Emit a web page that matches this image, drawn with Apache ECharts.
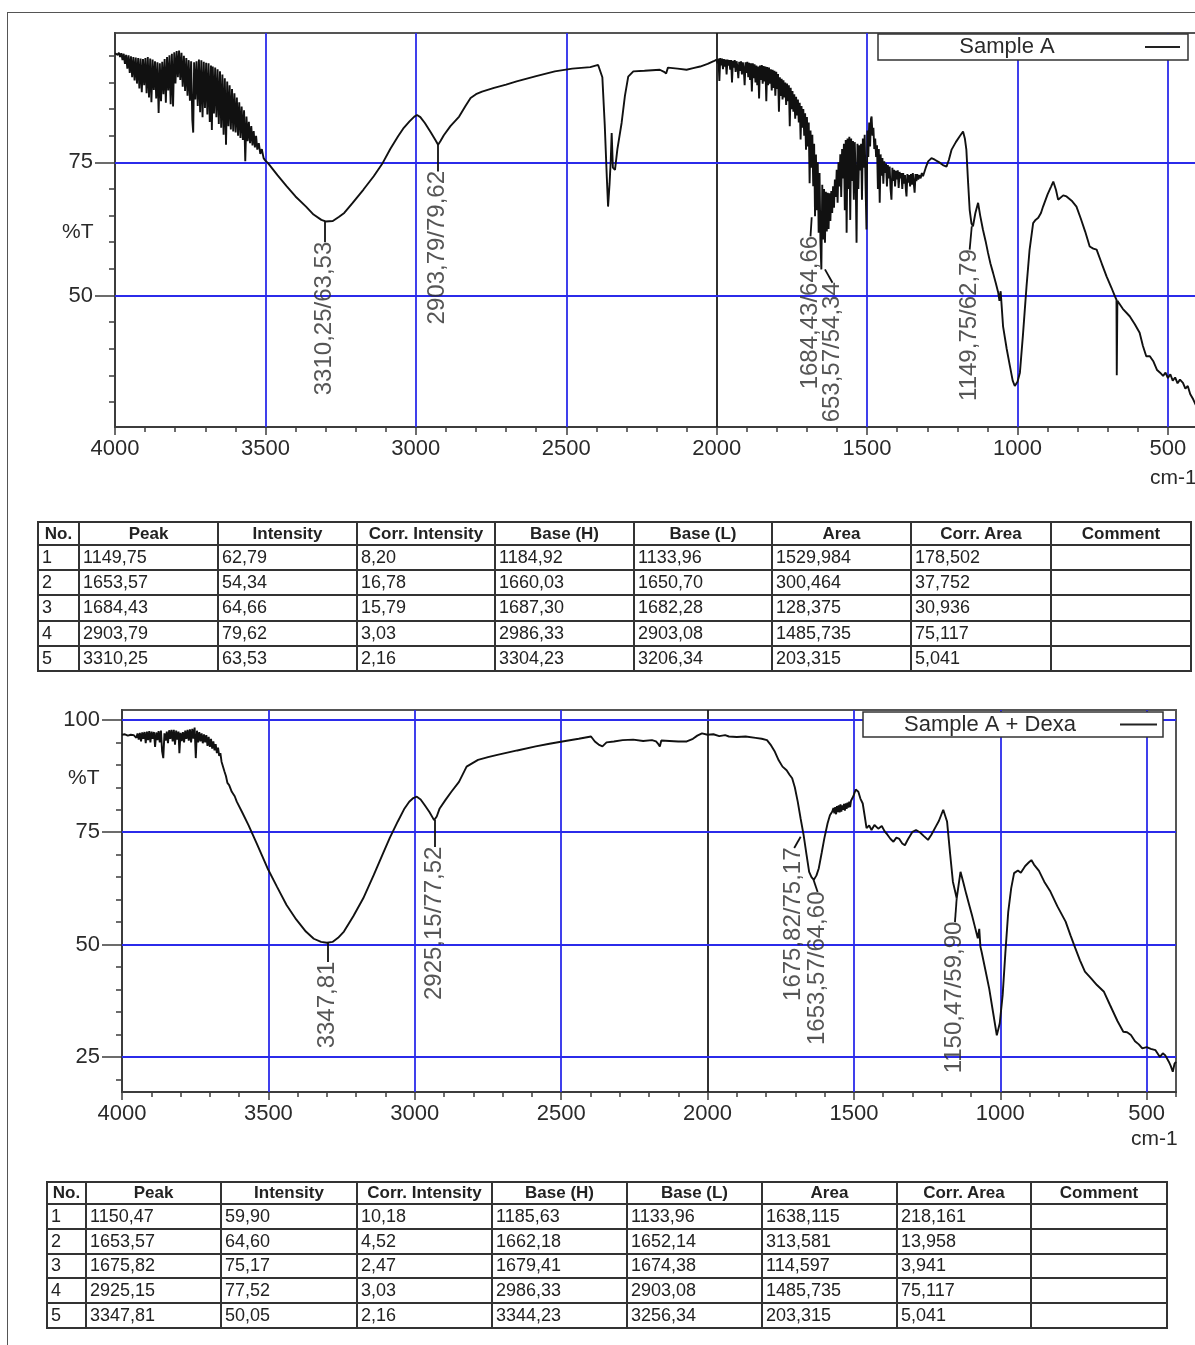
<!DOCTYPE html>
<html>
<head>
<meta charset="utf-8">
<title>FTIR - Sample A / Sample A + Dexa</title>
<script src="https://cdn.jsdelivr.net/npm/echarts@6.0.0/dist/echarts.min.js"></script>
<style>
  body { margin: 0; background: #fff; }
  #page { position: relative; width: 1195px; height: 1345px; overflow: hidden; background: #fff; }
  #chart { position: absolute; left: 0; top: 0; width: 1195px; height: 1345px; }
  .frame { position: absolute; left: 7px; top: 12px; width: 1200px; height: 1340px; border-left: 1px solid #555; border-top: 1px solid #555; }
  table.peaks { position: absolute; border-collapse: collapse; table-layout: fixed; font-family: 'Liberation Sans', Arial, sans-serif; font-size: 18px; color: #222; }
  table.peaks th, table.peaks td { border: 2px solid #333; white-space: nowrap; overflow: hidden; }
  table.peaks th { padding: 0; text-align: center; font-weight: bold; font-size: 17px; }
  table.peaks td { padding: 0 0 0 3px; text-align: left; }
  #tableA th { height: 21px; }
  #tableA td { height: 23.2px; }
  #tableB th { height: 19.5px; }
  #tableB td { height: 22.8px; }
</style>
</head>
<body>
<div id="page">
  <div class="frame"></div>
  <div id="chart"></div>
</div>
<script>
// ---- spectrum 1 : Sample A  [wavenumber cm-1, %T]
const specA = [
  [4000, 95.5], [3995, 95.7], [3991, 95.2], [3987, 95.6], [3983, 94.8], [3979, 95.5], [3975, 94.2],
  [3971, 95.4], [3967, 93.5], [3963, 95.2], [3959, 92.6], [3955, 95.1], [3951, 91.8], [3947, 94.9],
  [3943, 91.0], [3939, 94.8], [3935, 90.4], [3931, 94.7], [3927, 89.8], [3923, 94.6], [3919, 88.9],
  [3915, 94.5], [3911, 88.2], [3907, 94.4], [3903, 89.5], [3899, 94.6], [3895, 88.0], [3891, 94.8],
  [3887, 87.2], [3883, 94.5], [3879, 86.3], [3875, 94.3], [3871, 88.6], [3867, 94.0], [3863, 87.0],
  [3859, 93.8], [3855, 84.3], [3851, 93.6], [3847, 86.5], [3843, 93.9], [3839, 87.8], [3835, 94.4],
  [3831, 86.2], [3827, 94.8], [3823, 88.5], [3819, 95.1], [3815, 85.9], [3811, 95.4], [3807, 85.5],
  [3803, 95.7], [3799, 89.8], [3795, 95.9], [3791, 91.0], [3787, 96.0], [3783, 90.5], [3779, 95.6],
  [3775, 89.2], [3771, 95.0], [3767, 88.4], [3763, 94.6], [3759, 87.5], [3755, 94.2], [3751, 86.6],
  [3747, 94.0], [3743, 83.0], [3740, 80.6], [3737, 93.8], [3733, 86.8], [3729, 94.0], [3725, 85.6],
  [3721, 94.3], [3717, 84.4], [3713, 94.2], [3709, 83.5], [3705, 93.9], [3701, 85.2], [3697, 93.7],
  [3693, 84.0], [3689, 93.6], [3685, 82.6], [3681, 93.2], [3678, 81.1], [3675, 93.0], [3671, 84.2],
  [3667, 92.8], [3663, 83.5], [3659, 92.5], [3655, 82.2], [3651, 92.1], [3647, 81.5], [3643, 91.5],
  [3639, 80.2], [3635, 90.8], [3631, 78.3], [3627, 90.2], [3623, 81.8], [3619, 89.5], [3615, 81.2],
  [3611, 88.8], [3607, 80.8], [3603, 88.0], [3599, 80.6], [3595, 87.2], [3591, 80.0], [3587, 86.3],
  [3583, 79.6], [3579, 85.5], [3575, 79.2], [3571, 84.8], [3567, 75.2], [3563, 83.6], [3559, 79.0],
  [3555, 82.6], [3551, 78.6], [3547, 81.8], [3543, 78.2], [3539, 80.9], [3535, 77.8], [3531, 80.0],
  [3527, 77.4], [3522, 78.6], [3517, 76.6], [3512, 77.5], [3506, 75.8], [3500, 75.3], [3492, 74.9],
  [3460, 72.6], [3429, 70.5], [3400, 68.6], [3365, 66.7], [3340, 65.2], [3314, 64.2], [3300, 63.9],
  [3276, 64.0], [3255, 64.8], [3238, 65.5], [3210, 67.4], [3174, 69.9], [3140, 72.4], [3110, 74.9],
  [3085, 77.5], [3059, 79.9], [3040, 81.5], [3021, 82.7], [3005, 83.6], [2996, 83.9], [2985, 83.5],
  [2970, 82.4], [2950, 80.6], [2935, 79.2], [2926, 78.3], [2918, 79.0], [2907, 80.1], [2885, 81.8],
  [2856, 83.6], [2835, 85.6], [2818, 87.1], [2800, 87.8], [2780, 88.3], [2740, 89.0], [2700, 89.6],
  [2665, 90.2], [2600, 91.2], [2538, 92.1], [2480, 92.6], [2420, 92.9], [2394, 93.3], [2380, 91.0],
  [2372, 82.0], [2365, 72.0], [2361, 66.7], [2356, 71.0], [2352, 75.5], [2349, 80.5], [2345, 74.0],
  [2338, 73.6], [2330, 77.5], [2316, 82.4], [2305, 87.5], [2294, 91.1], [2277, 92.1], [2240, 92.2],
  [2189, 92.4], [2175, 92.0], [2168, 91.7], [2162, 92.8], [2130, 92.6], [2100, 92.4], [2078, 92.7],
  [2055, 93.0], [2030, 93.5], [2010, 94.0], [2000, 94.3], [1997, 93.6], [1994, 94.5], [1991, 90.3],
  [1988, 94.6], [1985, 93.2], [1982, 94.5], [1979, 92.5], [1976, 94.4], [1973, 93.0], [1970, 94.3],
  [1967, 91.5], [1964, 94.3], [1961, 93.2], [1958, 94.2], [1955, 92.4], [1952, 94.2], [1949, 90.0],
  [1946, 94.1], [1943, 92.8], [1940, 94.2], [1937, 92.0], [1934, 94.0], [1931, 93.0], [1928, 90.8],
  [1925, 93.9], [1922, 92.2], [1919, 94.0], [1916, 91.5], [1913, 93.8], [1910, 92.6], [1907, 89.5],
  [1904, 93.8], [1901, 91.8], [1898, 93.9], [1895, 91.0], [1892, 93.7], [1889, 90.5], [1886, 93.6],
  [1883, 88.3], [1880, 93.6], [1877, 90.8], [1874, 93.4], [1871, 90.0], [1868, 93.2], [1865, 89.5],
  [1862, 93.0], [1859, 87.0], [1856, 93.2], [1853, 90.5], [1850, 93.3], [1847, 89.8], [1844, 93.1],
  [1841, 90.2], [1838, 93.0], [1835, 86.5], [1832, 92.9], [1829, 89.5], [1826, 92.8], [1823, 89.8],
  [1820, 92.5], [1817, 88.5], [1814, 92.4], [1811, 89.0], [1808, 92.2], [1805, 87.5], [1802, 92.0],
  [1799, 88.8], [1796, 91.6], [1793, 84.5], [1790, 91.0], [1787, 87.5], [1784, 90.7], [1781, 86.8],
  [1778, 90.4], [1775, 87.2], [1772, 90.0], [1769, 85.8], [1766, 89.8], [1763, 86.5], [1760, 89.5],
  [1757, 81.8], [1754, 89.0], [1751, 85.0], [1748, 88.4], [1745, 84.5], [1742, 87.8], [1739, 83.2],
  [1736, 87.3], [1733, 83.8], [1730, 86.8], [1727, 82.5], [1724, 86.2], [1721, 79.3], [1718, 85.6],
  [1715, 81.5], [1712, 85.0], [1709, 80.0], [1706, 84.2], [1703, 77.4], [1700, 83.5], [1697, 78.0],
  [1694, 82.5], [1691, 71.1], [1688, 81.0], [1685, 74.0], [1682, 80.2], [1679, 70.5], [1676, 78.5],
  [1673, 64.9], [1670, 76.5], [1667, 66.0], [1664, 75.0], [1661, 61.8], [1658, 73.0], [1655, 60.0],
  [1652, 54.9], [1649, 70.8], [1646, 60.5], [1643, 70.0], [1640, 59.9], [1637, 69.5], [1634, 62.0],
  [1631, 69.3], [1628, 62.5], [1625, 69.2], [1622, 64.0], [1619, 69.6], [1616, 65.5], [1613, 70.5],
  [1610, 66.5], [1607, 71.8], [1604, 68.5], [1601, 73.6], [1598, 67.4], [1595, 75.0], [1592, 70.5],
  [1589, 76.5], [1586, 68.5], [1583, 77.5], [1580, 72.0], [1577, 78.5], [1574, 66.0], [1571, 79.2],
  [1568, 61.8], [1565, 79.5], [1562, 70.0], [1559, 79.8], [1556, 64.2], [1553, 79.5], [1550, 71.5],
  [1547, 79.0], [1544, 68.0], [1541, 78.8], [1538, 72.5], [1535, 59.9], [1532, 78.5], [1529, 70.0],
  [1526, 78.2], [1523, 73.5], [1520, 78.5], [1517, 68.0], [1514, 79.5], [1511, 74.0], [1508, 80.2],
  [1505, 70.5], [1502, 62.4], [1499, 81.0], [1496, 76.0], [1493, 82.5], [1490, 78.0], [1487, 83.2],
  [1485, 83.6], [1482, 80.0], [1479, 81.5], [1476, 77.5], [1473, 79.5], [1470, 76.0], [1467, 78.2],
  [1464, 70.0], [1461, 77.5], [1458, 67.4], [1455, 76.5], [1452, 72.5], [1449, 75.8], [1446, 71.0],
  [1443, 75.2], [1440, 73.0], [1437, 74.8], [1434, 70.5], [1431, 74.5], [1428, 72.0], [1425, 74.2],
  [1422, 70.0], [1419, 68.0], [1416, 74.0], [1413, 71.5], [1410, 73.6], [1407, 70.5], [1404, 73.4],
  [1401, 71.8], [1398, 73.5], [1395, 70.2], [1392, 73.2], [1389, 72.0], [1386, 73.0], [1383, 70.0],
  [1380, 73.0], [1377, 71.0], [1374, 72.6], [1371, 69.8], [1369, 68.6], [1366, 72.8], [1363, 71.2],
  [1360, 72.6], [1357, 70.5], [1354, 72.8], [1351, 70.8], [1348, 73.0], [1345, 71.2], [1342, 69.3],
  [1339, 72.8], [1336, 71.5], [1333, 72.8], [1330, 71.8], [1326, 72.6], [1322, 72.0], [1318, 73.0],
  [1314, 72.4], [1305, 74.0], [1297, 75.2], [1286, 75.8], [1275, 75.5], [1260, 75.0], [1248, 74.5],
  [1236, 74.2], [1228, 75.5], [1219, 77.4], [1205, 78.8], [1192, 79.9], [1181, 80.8], [1175, 79.5],
  [1170, 77.4], [1164, 71.0], [1159, 66.1], [1153, 63.5], [1148, 63.0], [1140, 65.5], [1131, 67.4],
  [1124, 65.0], [1115, 62.4], [1106, 60.2], [1098, 58.0], [1090, 56.0], [1081, 54.2], [1072, 52.3],
  [1064, 50.5], [1060, 49.0], [1056, 50.8], [1048, 44.2], [1036, 40.0], [1025, 36.7], [1016, 34.0],
  [1009, 33.0], [1000, 33.8], [992, 35.5], [982, 42.5], [970, 51.7], [960, 58.5], [948, 63.6],
  [940, 64.2], [931, 64.6], [922, 65.5], [915, 66.7], [900, 69.0], [888, 70.5], [881, 71.4],
  [872, 69.8], [865, 68.0], [859, 68.0], [848, 68.8], [837, 68.6], [820, 67.8], [804, 66.7],
  [790, 64.5], [775, 62.0], [760, 59.2], [748, 58.8], [737, 58.6], [720, 56.0], [704, 53.6],
  [688, 51.5], [675, 49.7], [671, 49.2], [670, 35.0], [668, 49.0], [650, 47.5], [627, 46.1],
  [610, 44.6], [594, 43.0], [583, 40.5], [572, 38.6], [560, 38.6], [548, 37.6], [536, 36.0],
  [526, 35.5], [516, 34.9], [508, 35.5], [500, 34.5], [492, 35.2], [484, 34.0], [476, 34.6],
  [468, 33.5], [460, 34.2], [450, 33.6], [442, 32.5], [434, 33.0], [426, 31.5], [416, 30.5],
  [408, 29.5], [400, 29.0]
];

// ---- spectrum 2 : Sample A + Dexa
const specB = [
  [4000, 96.7], [3990, 96.8], [3980, 96.5], [3970, 96.7], [3960, 96.6], [3955, 96.9], [3951, 96.0],
  [3947, 97.0], [3943, 95.6], [3939, 97.1], [3935, 95.2], [3931, 97.2], [3927, 95.8], [3923, 97.3],
  [3919, 94.8], [3915, 97.4], [3911, 95.5], [3907, 97.5], [3903, 95.0], [3899, 97.4], [3895, 95.8],
  [3891, 97.3], [3887, 94.0], [3883, 97.2], [3879, 95.5], [3875, 97.5], [3871, 95.0], [3867, 97.6],
  [3863, 93.0], [3859, 91.5], [3855, 97.0], [3851, 95.4], [3847, 97.4], [3843, 94.8], [3839, 97.7],
  [3835, 95.8], [3831, 97.8], [3827, 95.2], [3823, 97.8], [3819, 94.5], [3815, 97.6], [3811, 95.6],
  [3807, 97.4], [3804, 92.6], [3800, 97.1], [3796, 95.3], [3792, 97.3], [3788, 95.0], [3784, 97.6],
  [3780, 95.8], [3776, 97.8], [3772, 95.4], [3768, 97.9], [3764, 95.0], [3760, 98.0], [3756, 95.8],
  [3752, 98.3], [3748, 91.5], [3744, 97.6], [3740, 95.0], [3736, 97.3], [3732, 95.2], [3728, 97.0],
  [3724, 94.8], [3720, 96.8], [3716, 95.0], [3712, 96.6], [3708, 94.2], [3704, 96.2], [3700, 94.0],
  [3696, 95.8], [3692, 93.6], [3688, 95.2], [3684, 93.2], [3680, 94.6], [3676, 92.6], [3672, 93.8],
  [3668, 92.0], [3664, 92.6], [3660, 90.7], [3655, 90.5], [3650, 88.5], [3645, 87.5], [3640, 86.0],
  [3634, 85.5], [3625, 84.0], [3615, 83.0], [3608, 81.8], [3590, 79.5], [3568, 76.6], [3540, 72.5],
  [3503, 67.0], [3470, 62.8], [3438, 58.8], [3405, 55.6], [3372, 52.9], [3345, 51.3], [3320, 50.6],
  [3300, 50.4], [3281, 50.6], [3262, 51.5], [3242, 52.9], [3210, 56.3], [3176, 60.3], [3140, 65.5],
  [3111, 69.9], [3085, 73.8], [3058, 77.4], [3035, 80.3], [3019, 81.8], [3005, 82.6], [2993, 82.9],
  [2980, 82.3], [2967, 81.1], [2950, 79.5], [2934, 77.7], [2925, 78.5], [2915, 80.3], [2895, 82.2],
  [2875, 84.0], [2849, 86.2], [2823, 89.6], [2800, 90.5], [2784, 91.1], [2750, 91.7], [2718, 92.2],
  [2650, 93.2], [2587, 94.1], [2540, 94.7], [2496, 95.2], [2440, 95.8], [2398, 96.3], [2385, 95.2],
  [2372, 94.5], [2359, 94.1], [2345, 95.0], [2320, 95.2], [2290, 95.5], [2254, 95.6], [2220, 95.3],
  [2190, 95.5], [2176, 95.2], [2168, 94.6], [2163, 94.1], [2158, 95.4], [2130, 95.3], [2100, 95.2],
  [2071, 95.2], [2050, 95.8], [2035, 96.5], [2019, 97.0], [2000, 96.7], [1980, 96.8], [1960, 96.4],
  [1940, 96.6], [1927, 96.3], [1900, 96.2], [1870, 96.3], [1836, 96.0], [1815, 95.8], [1797, 95.5],
  [1785, 94.5], [1770, 92.9], [1757, 91.0], [1744, 89.6], [1730, 88.8], [1720, 87.8], [1711, 87.0],
  [1702, 85.0], [1692, 81.8], [1682, 78.0], [1672, 74.4], [1662, 70.0], [1653, 66.2], [1645, 65.0],
  [1637, 64.4], [1628, 65.4], [1620, 67.0], [1610, 70.5], [1601, 73.7], [1590, 77.0], [1582, 78.8],
  [1574, 79.6], [1570, 80.4], [1567, 79.2], [1564, 80.6], [1561, 79.0], [1558, 80.8], [1555, 79.5],
  [1552, 81.0], [1549, 79.4], [1546, 81.2], [1543, 79.6], [1540, 81.0], [1537, 80.0], [1534, 81.3],
  [1531, 79.8], [1528, 81.4], [1525, 80.2], [1522, 81.6], [1519, 80.5], [1516, 81.8], [1513, 80.6],
  [1510, 82.0], [1506, 82.2], [1502, 83.0], [1498, 83.8], [1494, 84.5], [1490, 84.8], [1485, 84.0],
  [1478, 82.5], [1470, 81.4], [1463, 78.5], [1457, 75.9], [1448, 76.5], [1440, 75.5], [1430, 76.6],
  [1417, 75.8], [1405, 76.4], [1395, 75.2], [1385, 74.4], [1375, 73.5], [1365, 72.9], [1355, 73.8],
  [1345, 73.5], [1335, 72.5], [1326, 72.1], [1315, 73.5], [1300, 75.1], [1288, 75.5], [1275, 75.0],
  [1262, 74.2], [1247, 73.3], [1235, 74.5], [1221, 76.2], [1210, 77.5], [1195, 80.0], [1182, 77.4],
  [1172, 70.5], [1162, 64.0], [1149, 60.3], [1142, 63.5], [1136, 66.2], [1127, 64.0], [1117, 61.4],
  [1107, 59.0], [1097, 56.6], [1087, 54.0], [1077, 51.4], [1072, 53.5], [1068, 49.5], [1064, 48.4],
  [1050, 44.0], [1038, 40.2], [1025, 35.0], [1012, 29.8], [1002, 32.5], [992, 38.8], [983, 48.0],
  [973, 57.3], [963, 62.5], [953, 65.9], [940, 66.5], [930, 66.0], [915, 67.5], [904, 68.2],
  [894, 68.8], [885, 67.8], [868, 66.4], [850, 64.0], [829, 61.8], [805, 58.5], [777, 55.1],
  [760, 52.0], [744, 49.2], [728, 46.5], [711, 44.0], [690, 42.5], [670, 41.0], [646, 39.5],
  [625, 36.5], [600, 33.0], [580, 30.6], [567, 30.5], [554, 29.9], [540, 28.5], [527, 27.8],
  [515, 26.9], [500, 27.2], [486, 26.8], [470, 26.5], [455, 25.0], [445, 25.8], [437, 25.4],
  [425, 24.0], [418, 23.0], [411, 21.7], [405, 23.5], [400, 23.9]
];

// ---- peak annotations (text, label top [cm-1, %T], peak point on the curve)
const peakTextA = ['3310,25/63,53', '2903,79/79,62', '1684,43/64,66', '653,57/54,34', '1149,75/62,79'];
const peakLabelA = [[3302, 60.0], [2927, 73.3], [1688, 61.1], [1615, 52.4], [1159, 58.6]];
const peakPointA = [[3302, 63.9], [2927, 78.3], [1684, 64.7], [1640, 54.9], [1152, 63.0]];

const peakTextB = ['3347,81', '2925,15/77,52', '1675,82/75,17', '1653,57/64,60', '1150,47/59,90'];
const peakLabelB = [[3298, 46.1], [2932, 71.7], [1704, 71.5], [1624, 61.7], [1155, 55.0]];
const peakPointB = [[3298, 50.4], [2932, 77.7], [1682, 74.0], [1638, 64.4], [1149, 60.3]];

// ---- axes
const xLabels = [4000, 3500, 3000, 2500, 2000, 1500, 1000, 500];
const xGrid = [3500, 3000, 2500, 2000, 1500, 1000, 500];
const yLabelsA = [50, 75];
const yLabelsB = [25, 50, 75, 100];
const yGridA = [75, 50];
const yGridB = [100, 75, 50, 25];

// ---- peak tables
const HEADERS = ['No.', 'Peak', 'Intensity', 'Corr. Intensity', 'Base (H)', 'Base (L)', 'Area', 'Corr. Area', 'Comment'];
const peakA = ['1149,75', '1653,57', '1684,43', '2903,79', '3310,25'];
const intensityA = ['62,79', '54,34', '64,66', '79,62', '63,53'];
const corrIntensityA = ['8,20', '16,78', '15,79', '3,03', '2,16'];
const baseHA = ['1184,92', '1660,03', '1687,30', '2986,33', '3304,23'];
const baseLA = ['1133,96', '1650,70', '1682,28', '2903,08', '3206,34'];
const areaA = ['1529,984', '300,464', '128,375', '1485,735', '203,315'];
const corrAreaA = ['178,502', '37,752', '30,936', '75,117', '5,041'];

const peakB = ['1150,47', '1653,57', '1675,82', '2925,15', '3347,81'];
const intensityB = ['59,90', '64,60', '75,17', '77,52', '50,05'];
const corrIntensityB = ['10,18', '4,52', '2,47', '3,03', '2,16'];
const baseHB = ['1185,63', '1662,18', '1679,41', '2986,33', '3344,23'];
const baseLB = ['1133,96', '1652,14', '1674,38', '2903,08', '3256,34'];
const areaB = ['1638,115', '313,581', '114,597', '1485,735', '203,315'];
const corrAreaB = ['218,161', '13,958', '3,941', '75,117', '5,041'];

const AXIS_COLOR = '#3c3c3c';
const TEXT_COLOR = '#2a2a2a';
const GRID_BLUE = '#2b2bea';
const FONT = "'Liberation Sans', Arial, sans-serif";

function minorValues(from, to, step) {
  const out = [];
  for (let v = from; v <= to; v += step) out.push(v);
  return out;
}

function makeX(gridIndex, major) {
  return {
    gridIndex: gridIndex,
    type: 'value',
    min: 400,
    max: 4000,
    inverse: true,
    axisLine: { show: !major, onZero: false, lineStyle: { color: AXIS_COLOR, width: 2 } },
    axisTick: {
      show: true,
      customValues: major ? xLabels : minorValues(400, 4000, 100),
      length: major ? 8 : 5,
      lineStyle: { color: AXIS_COLOR, width: 1.5 }
    },
    axisLabel: {
      show: major,
      customValues: xLabels,
      formatter: v => String(v),
      margin: 11,
      fontSize: 22,
      fontFamily: FONT,
      color: TEXT_COLOR
    },
    splitLine: { show: false }
  };
}

function makeY(gridIndex, min, max, labels, major) {
  return {
    gridIndex: gridIndex,
    type: 'value',
    min: min,
    max: max,
    position: 'left',
    axisLine: { show: !major, onZero: false, lineStyle: { color: AXIS_COLOR, width: 2 } },
    axisTick: {
      show: true,
      customValues: major ? labels : minorValues(Math.ceil(min / 5) * 5, max, 5),
      length: major ? 20 : 6,
      lineStyle: { color: AXIS_COLOR, width: 1.5 }
    },
    axisLabel: {
      show: major,
      customValues: labels,
      formatter: v => String(v),
      margin: 22,
      fontSize: 22,
      fontFamily: FONT,
      color: TEXT_COLOR
    },
    splitLine: { show: false }
  };
}

function gridLines(ys) {
  return xGrid.map(v => ({
    xAxis: v,
    lineStyle: { color: v === 2000 ? '#1a1a1a' : GRID_BLUE }
  })).concat(ys.map(v => ({ yAxis: v, lineStyle: { color: GRID_BLUE } })));
}

function spectrumSeries(data, axisIndex, points, labels) {
  return {
    type: 'line',
    xAxisIndex: axisIndex,
    yAxisIndex: axisIndex,
    data: data,
    symbol: 'none',
    lineStyle: { color: '#111', width: 1.9 },
    z: 3,
    markLine: {
      silent: true,
      symbol: 'none',
      z: 4,
      label: { show: false },
      lineStyle: { color: '#111', width: 1.8, type: 'solid' },
      data: points.map((p, i) => [{ coord: p }, { coord: labels[i] }])
    }
  };
}

function labelSeries(axisIndex, texts, labels, ys) {
  return {
    type: 'scatter',
    xAxisIndex: axisIndex,
    yAxisIndex: axisIndex,
    symbolSize: 1,
    itemStyle: { color: 'rgba(0,0,0,0)' },
    silent: true,
    z: 4,
    data: labels.map((p, i) => ({ value: p, label: { formatter: texts[i] } })),
    label: {
      show: true,
      position: [0, 0],
      rotate: 90,
      align: 'right',
      verticalAlign: 'middle',
      fontSize: 24,
      fontFamily: FONT,
      color: TEXT_COLOR
    },
    markLine: {
      silent: true,
      symbol: 'none',
      z: 1,
      label: { show: false },
      lineStyle: { width: 1.8, type: 'solid' },
      data: gridLines(ys)
    }
  };
}

function legendBox(x, y, w, h, text, textX, lineX1, lineX2) {
  return [
    { type: 'rect', z: 100, shape: { x: x, y: y, width: w, height: h },
      style: { fill: '#fff', stroke: '#333', lineWidth: 1.5 } },
    { type: 'text', z: 101, x: textX, y: y + h / 2,
      style: { text: text, fill: TEXT_COLOR, font: '22px ' + FONT, align: 'center', verticalAlign: 'middle' } },
    { type: 'line', z: 101, shape: { x1: lineX1, y1: y + h / 2, x2: lineX2, y2: y + h / 2 },
      style: { stroke: '#222', lineWidth: 2 } }
  ];
}

function plainText(x, y, text) {
  return { type: 'text', z: 101, x: x, y: y,
    style: { text: text, fill: TEXT_COLOR, font: '21px ' + FONT, align: 'left', verticalAlign: 'middle' } };
}

const chart = echarts.init(document.getElementById('chart'), null, { width: 1195, height: 1345 });

const gridA = { left: 115, top: 33, right: -3, height: 394, show: true, borderColor: '#555', borderWidth: 2, outerBoundsMode: 'none' };
const gridB = { left: 122, top: 710, right: 19, height: 382, show: true, borderColor: '#555', borderWidth: 2, outerBoundsMode: 'none' };

const option = {
  animation: false,
  backgroundColor: 'transparent',
  textStyle: { fontFamily: FONT },
  grid: [
    gridA,
    Object.assign({}, gridA, { show: false }),
    gridB,
    Object.assign({}, gridB, { show: false })
  ],
  xAxis: [makeX(0, false), makeX(1, true), makeX(2, false), makeX(3, true)],
  yAxis: [
    makeY(0, 25.3, 99.3, yLabelsA, false),
    makeY(1, 25.3, 99.3, yLabelsA, true),
    makeY(2, 17.2, 102.2, yLabelsB, false),
    makeY(3, 17.2, 102.2, yLabelsB, true)
  ],
  series: [
    spectrumSeries(specA, 0, peakPointA, peakLabelA),
    labelSeries(0, peakTextA, peakLabelA, yGridA),
    spectrumSeries(specB, 2, peakPointB, peakLabelB),
    labelSeries(2, peakTextB, peakLabelB, yGridB)
  ],
  graphic: [].concat(
    legendBox(878, 34, 310, 26, 'Sample A', 1007, 1145, 1180),
    legendBox(863, 712, 300, 25, 'Sample A + Dexa', 990, 1120, 1157),
    [
      plainText(62, 232, '%T'),
      plainText(68, 778, '%T'),
      plainText(1150, 478, 'cm-1'),
      plainText(1131, 1139, 'cm-1')
    ]
  )
};

chart.setOption(option);

function renderTable(id, left, top, widths, cols) {
  const table = document.createElement('table');
  table.className = 'peaks';
  table.id = id;
  table.style.left = left + 'px';
  table.style.top = top + 'px';
  table.style.width = widths.reduce((a, b) => a + b, 0) + 'px';
  const colgroup = document.createElement('colgroup');
  widths.forEach(w => {
    const col = document.createElement('col');
    col.style.width = w + 'px';
    colgroup.appendChild(col);
  });
  table.appendChild(colgroup);
  const head = document.createElement('tr');
  HEADERS.forEach(h => {
    const th = document.createElement('th');
    th.textContent = h;
    head.appendChild(th);
  });
  table.appendChild(head);
  for (let i = 0; i < cols[0].length; i++) {
    const tr = document.createElement('tr');
    [String(i + 1)].concat(cols.map(c => c[i]), ['']).forEach(v => {
      const td = document.createElement('td');
      td.textContent = v;
      tr.appendChild(td);
    });
    table.appendChild(tr);
  }
  document.getElementById('page').appendChild(table);
}

renderTable('tableA', 37, 521, [41, 139, 139, 138, 139, 138, 139, 140, 140],
  [peakA, intensityA, corrIntensityA, baseHA, baseLA, areaA, corrAreaA]);
renderTable('tableB', 46, 1181, [39, 135, 136, 135, 135, 135, 135, 134, 136],
  [peakB, intensityB, corrIntensityB, baseHB, baseLB, areaB, corrAreaB]);
</script>
</body>
</html>
